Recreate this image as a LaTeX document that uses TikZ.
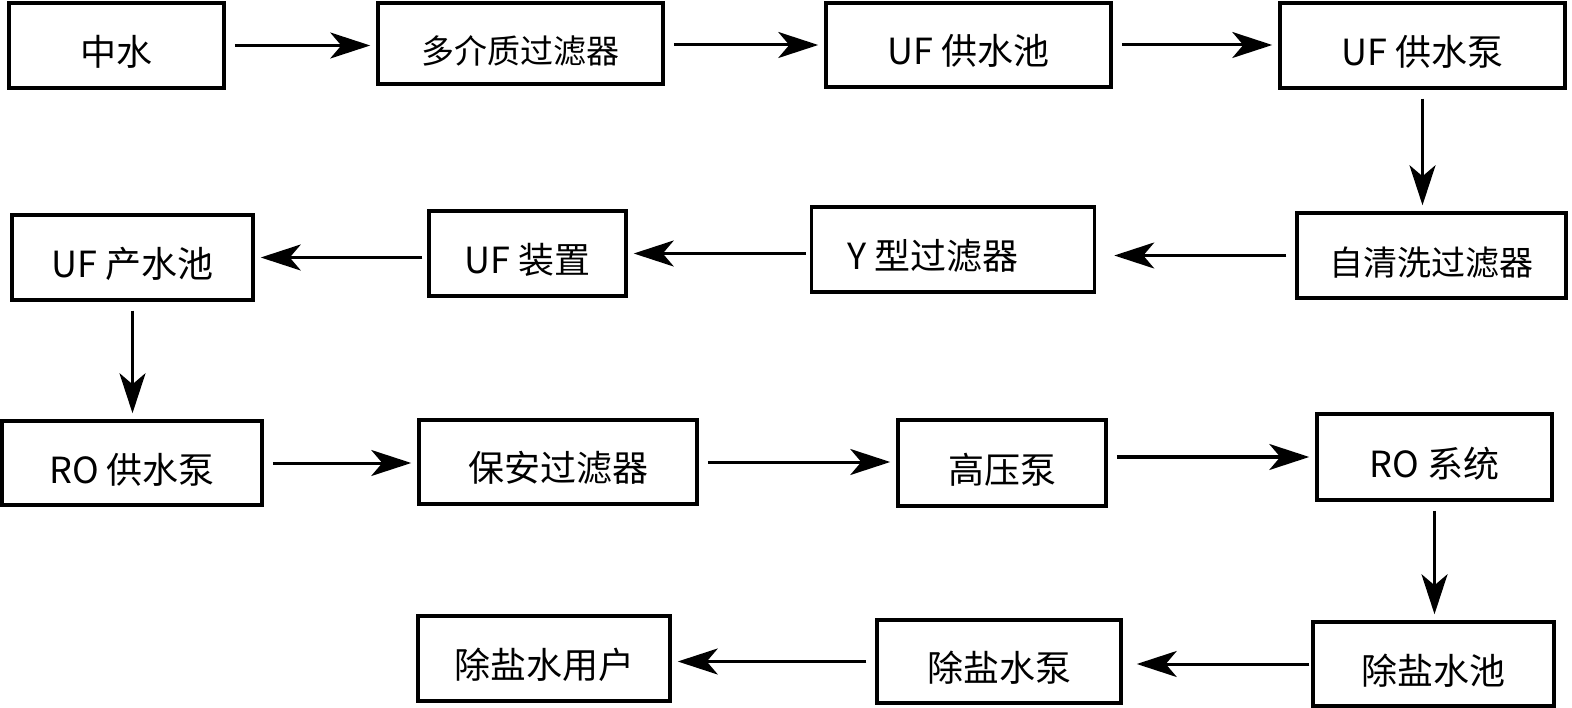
\documentclass[tikz,border=0pt]{standalone}
\usepackage{fontspec}
\newfontfamily\cjk{Noto Sans CJK SC}
\usepackage{tikz}
\usetikzlibrary{arrows.meta}

\tikzset{
    box/.style={draw, line width=3.5pt, inner sep=0pt,
        text height=41pt, text depth=1pt,
        font=\cjk\fontsize{36}{42}\selectfont},
    flow/.style={-{Stealth[length=40pt, width=26pt, inset=11pt]},
        line width=3pt, shorten <=9pt, shorten >=6pt}
}

\begin{document}
\begin{tikzpicture}[x=1pt, y=-1pt]
    \useasboundingbox (0,0) rectangle (1572,708);
    % first row
    \node[box, minimum width=215pt, minimum height=85pt] (zs) at (116.5,45.5) {中水};
    \node[box, minimum width=285pt, minimum height=81pt,
        font=\cjk\fontsize{33}{40}\selectfont] (dj) at (520.5,43.5) {多介质过滤器};
    \node[box, minimum width=285pt, minimum height=84pt] (gsc) at (968.5,45) {UF 供水池};
    \node[box, minimum width=285pt, minimum height=85pt] (gsb) at (1422.5,45.5) {UF 供水泵};
    % second row
    \node[box, minimum width=269pt, minimum height=85pt,
        font=\cjk\fontsize{34}{40}\selectfont] (zqx) at (1431.5,255.5) {自清洗过滤器};
    \node[box, minimum width=283pt, minimum height=85pt] (yx) at (953,249.5) {Y 型过滤器\hspace*{40pt}};
    \node[box, minimum width=197pt, minimum height=85pt] (ufzz) at (527.5,253.5) {UF 装置};
    \node[box, minimum width=241pt, minimum height=85pt] (csc) at (132.5,257.5) {UF 产水池};
    % third row
    \node[box, minimum width=260pt, minimum height=84pt] (rogb) at (132,463) {RO 供水泵};
    \node[box, minimum width=278pt, minimum height=84pt] (ba) at (558,462) {保安过滤器};
    \node[box, minimum width=208pt, minimum height=86pt] (gyb) at (1002,463) {高压泵};
    \node[box, minimum width=235pt, minimum height=86pt] (roxt) at (1434.5,457) {RO 系统};
    % fourth row
    \node[box, minimum width=241pt, minimum height=84pt] (yc) at (1433.5,664) {除盐水池};
    \node[box, minimum width=244pt, minimum height=83pt] (yb) at (999,661.5) {除盐水泵};
    \node[box, minimum width=252pt, minimum height=85pt] (yh) at (544,658.5) {除盐水用户};

    \draw[flow] (zs.east) -- (dj.west |- zs.east);
    \draw[flow] (dj.east |- gsc.west) -- (gsc.west);
    \draw[flow] (gsc.east) -- (gsb.west |- gsc.east);
    \draw[flow] (gsb.south) -- (zqx.north -| gsb.south);
    \draw[flow, shorten >=18pt] (zqx.west) -- (yx.east |- zqx.west);
    \draw[flow, shorten <=4pt] (yx.west |- ufzz.east) -- (ufzz.east);
    \draw[flow, shorten <=5pt] (ufzz.west |- csc.east) -- (csc.east);
    \draw[flow] (csc.south) -- (rogb.north -| csc.south);
    \draw[flow] (rogb.east) -- (ba.west |- rogb.east);
    \draw[flow] (ba.east) -- (gyb.west |- ba.east);
    \draw[flow] (gyb.east |- roxt.west) -- (roxt.west);
    \draw[flow] (roxt.south) -- (yc.north -| roxt.south);
    \draw[flow, shorten <=2pt, shorten >=14pt] (yc.west) -- (yb.east |- yc.west);
    \draw[flow] (yb.west) -- (yh.east |- yb.west);
\end{tikzpicture}
\end{document}
